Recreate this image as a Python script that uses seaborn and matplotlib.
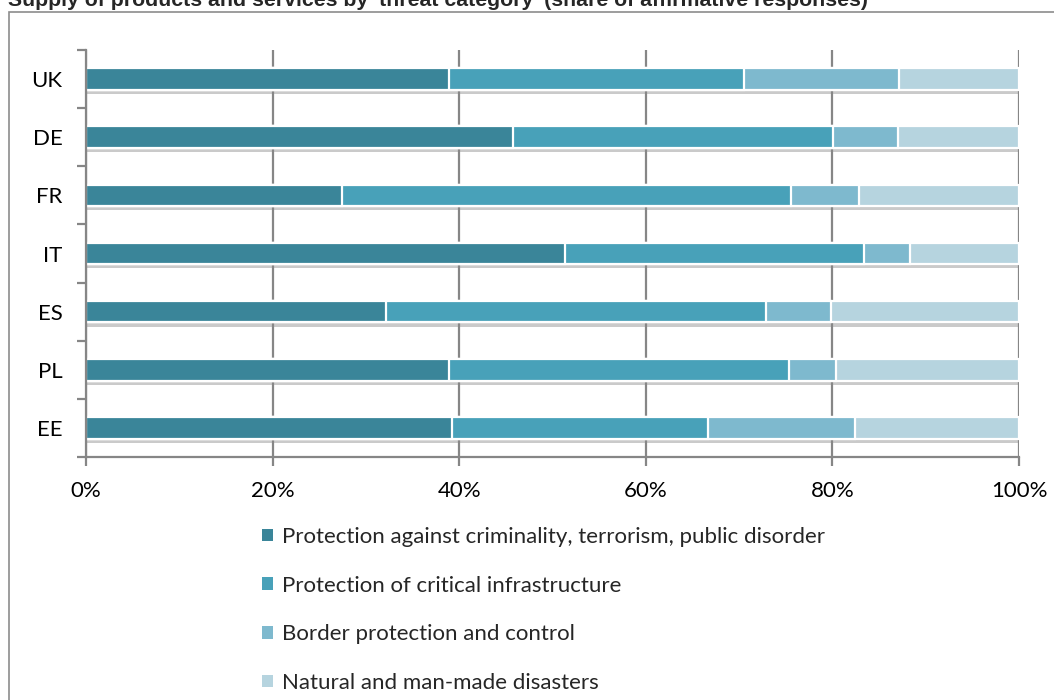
import matplotlib
matplotlib.use("Agg")
import matplotlib.pyplot as plt
import matplotlib.patheffects as pe
from matplotlib.patches import Rectangle, Patch
import numpy as np
import pandas as pd
import seaborn as sns

countries = ["UK", "DE", "FR", "IT", "ES", "PL", "EE"]
crime = [38.9, 45.8, 27.4, 51.3, 32.2, 38.9, 39.2]
infrastructure = [31.6, 34.3, 48.2, 32.1, 40.7, 36.5, 27.5]
border = [16.6, 6.9, 7.2, 4.9, 7.0, 5.0, 15.7]
disasters = [12.9, 13.0, 17.2, 11.7, 20.1, 19.6, 17.6]

series_names = [
    "Protection against criminality, terrorism, public disorder",
    "Protection of critical infrastructure",
    "Border protection and control",
    "Natural and man-made disasters",
]
colors = ["#3a8599", "#48a1b9", "#7eb9ce", "#b6d4df"]
x_ticks = [0, 20, 40, 60, 80, 100]

sns.set_theme(style="white")
plt.rcParams["font.family"] = ["Lato", "DejaVu Sans"]

df = pd.DataFrame({
    "country": countries,
    "s1": crime, "s2": infrastructure, "s3": border, "s4": disasters,
})
cum = df[["s1", "s2", "s3", "s4"]].cumsum(axis=1)

fig = plt.figure(figsize=(10.54, 7.0), dpi=100)
ax = fig.add_axes([86 / 1054, 1 - 457 / 700, (1019 - 86) / 1054, (457 - 50) / 700])

grid_col = "#868686"
for xv in x_ticks:
    ax.axvline(xv, color=grid_col, lw=1.6, zorder=0)

shadow = [pe.SimplePatchShadow(offset=(0, -3), shadow_rgbFace="#8a8a8a", alpha=0.45), pe.Normal()]
# Stack by overlaying cumulative totals, widest first
for i in range(3, -1, -1):
    col = ["s1", "s2", "s3", "s4"][i]
    sns.barplot(
        x=cum[col], y=df["country"], orient="h", ax=ax,
        color=colors[i], width=0.37, edgecolor="white", linewidth=1.6,
        saturation=1, zorder=2,
    )
for k, bar in enumerate(ax.patches):
    if k < len(countries):
        bar.set_path_effects(shadow)

ax.set_xlim(0, 100)
ax.set_ylim(6.5, -0.5)
ax.set_xlabel("")
ax.set_ylabel("")
ax.set_xticks(x_ticks)
ax.set_xticklabels([f"{v}%" for v in x_ticks])
ax.set_yticks(np.arange(-0.5, 7, 1))
ax.set_yticklabels([])
ax.set_yticks(np.arange(len(countries)), minor=True)
ax.set_yticklabels(countries, minor=True)
ax.tick_params(axis="y", which="major", length=6.5, width=1.6, color=grid_col, direction="out", left=True)
ax.tick_params(axis="y", which="minor", length=0, pad=17, labelsize=16, labelcolor="black")
ax.tick_params(axis="x", length=6.5, width=1.6, color=grid_col, direction="out", bottom=True,
               pad=11, labelsize=16, labelcolor="black")
for side in ["top", "right"]:
    ax.spines[side].set_visible(False)
for side in ["left", "bottom"]:
    ax.spines[side].set_color(grid_col)
    ax.spines[side].set_linewidth(1.6)

# Chart frame and title
fig.patches.append(Rectangle((9 / 1054, -0.05), 1.1, 1 - 12 / 700 + 0.05,
                             transform=fig.transFigure, fill=False,
                             edgecolor="#8c8c8c", lw=1.2, zorder=0))
fig.text(8 / 1054, 1 - 6 / 700, "Supply of products and services by 'threat category' (share of affirmative responses)",
         fontsize=15.3, fontweight="bold", family=["Liberation Sans", "DejaVu Sans"],
         ha="left", va="baseline")

handles = [Patch(facecolor=c, edgecolor="none") for c in colors]
fig.legend(handles, series_names, loc="upper left",
           bbox_to_anchor=(253 / 1054, 1 - 518 / 700), frameon=False,
           fontsize=16, handlelength=0.5, handleheight=0.5, handletextpad=0.4,
           labelspacing=1.29, borderaxespad=0)

fig.savefig("out.png", dpi=100)
